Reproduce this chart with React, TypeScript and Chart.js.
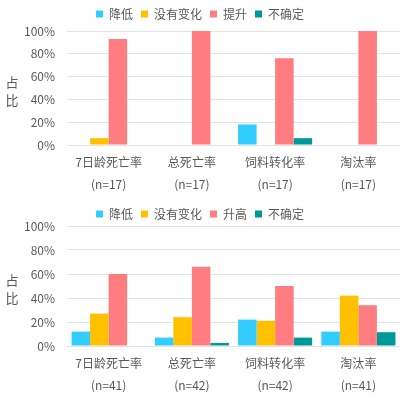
import React, { useEffect, useRef } from "react";
import { Chart, registerables } from "chart.js";

Chart.register(...registerables);

const seriesNames = ["降低", "没有变化", "提升", "不确定"];
const seriesNames2 = ["降低", "没有变化", "升高", "不确定"];
const colors = ["#33CCFF", "#FFC000", "#FF7C80", "#009999"];

const categories1 = [["7日龄死亡率", "(n=17)"], ["总死亡率", "(n=17)"], ["饲料转化率", "(n=17)"], ["淘汰率", "(n=17)"]];
const down1 = [0, 0, 18, 0];
const nochange1 = [6, 0, 0, 0];
const up1 = [93, 100, 76, 100];
const unsure1 = [0, 0, 6, 0];

const categories2 = [["7日龄死亡率", "(n=41)"], ["总死亡率", "(n=42)"], ["饲料转化率", "(n=42)"], ["淘汰率", "(n=41)"]];
const down2 = [12, 7, 22, 12];
const nochange2 = [27, 24, 21, 42];
const up2 = [60, 66, 50, 34];
const unsure2 = [0, 2.5, 7, 11.5];

const yTicks = [0, 20, 40, 60, 80, 100];

const FONT = "'Noto Sans CJK SC', 'Noto Sans', sans-serif";
const TEXT = "#595959";

const yTitlePlugin = {
  id: "yTitleUpright",
  afterDraw(chart: any) {
    const { ctx, chartArea } = chart;
    const mid = (chartArea.top + chartArea.bottom) / 2;
    ctx.save();
    ctx.fillStyle = TEXT;
    ctx.font = `13px ${FONT}`;
    ctx.textAlign = "center";
    ctx.textBaseline = "middle";
    ctx.fillText("占", 12, mid - 6);
    ctx.fillText("比", 12, mid + 12);
    ctx.restore();
  },
};

function makeLegendHeightPlugin(h: number) {
  return {
    id: "legendHeight",
    beforeLayout(chart: any) {
      const lg = chart.legend;
      if (lg && !lg._patchedFit) {
        const orig = lg.fit.bind(lg);
        lg.fit = function () {
          orig();
          this.height = h;
        };
        lg._patchedFit = true;
      }
    },
  };
}

function BarChart(props: {
  labels: string[][];
  names: string[];
  data: number[][];
  height: number;
  xHeight: number;
  legendHeight: number;
}) {
  const ref = useRef<HTMLCanvasElement>(null);
  useEffect(() => {
    if (!ref.current) return;
    const chart = new Chart(ref.current, {
      type: "bar",
      data: {
        labels: props.labels,
        datasets: props.data.map((d, i) => ({
          label: props.names[i],
          data: d,
          backgroundColor: colors[i],
          borderWidth: 0,
          categoryPercentage: 0.89,
          barPercentage: 1,
        })),
      },
      options: {
        animation: false,
        responsive: false,
        maintainAspectRatio: false,
        layout: { padding: { left: 0, right: 0, top: 0, bottom: 0 } },
        plugins: {
          legend: {
            position: "top",
            labels: {
              boxWidth: 7,
              boxHeight: 7,
              padding: 8,
              color: TEXT,
              font: { family: FONT, size: 12 },
            },
          },
          tooltip: { enabled: false },
        },
        scales: {
          x: {
            grid: { display: false, drawTicks: false },
            border: { display: false },
            ticks: {
              color: TEXT,
              font: { family: FONT, size: 12, lineHeight: 1.8 },
              padding: 7,
              maxRotation: 0,
              autoSkip: false,
            },
            afterFit(scale: any) {
              scale.height = props.xHeight;
            },
          },
          y: {
            min: 0,
            max: 100,
            afterBuildTicks(scale: any) {
              scale.ticks = yTicks.map((v) => ({ value: v }));
            },
            grid: { color: "#E3E3E3", drawTicks: false },
            border: { display: false },
            ticks: {
              color: TEXT,
              font: { family: FONT, size: 12 },
              padding: 12,
              callback: (v: any) => v + "%",
            },
            afterFit(scale: any) {
              scale.width = 67;
            },
          },
        },
      },
      plugins: [yTitlePlugin, makeLegendHeightPlugin(props.legendHeight)],
    });
    return () => chart.destroy();
  }, []);
  return <canvas ref={ref} width={400} height={props.height} style={{ display: "block", width: 400, height: props.height }} />;
}

export default function App() {
  return (
    <div style={{ position: "absolute", left: 0, top: 0, width: 400, height: 397, background: "#fff" }}>
      <BarChart labels={categories1} names={seriesNames} data={[down1, nochange1, up1, unsure1]} height={200} xHeight={55} legendHeight={31} />
      <BarChart labels={categories2} names={seriesNames2} data={[down2, nochange2, up2, unsure2]} height={197} xHeight={51} legendHeight={26} />
    </div>
  );
}
